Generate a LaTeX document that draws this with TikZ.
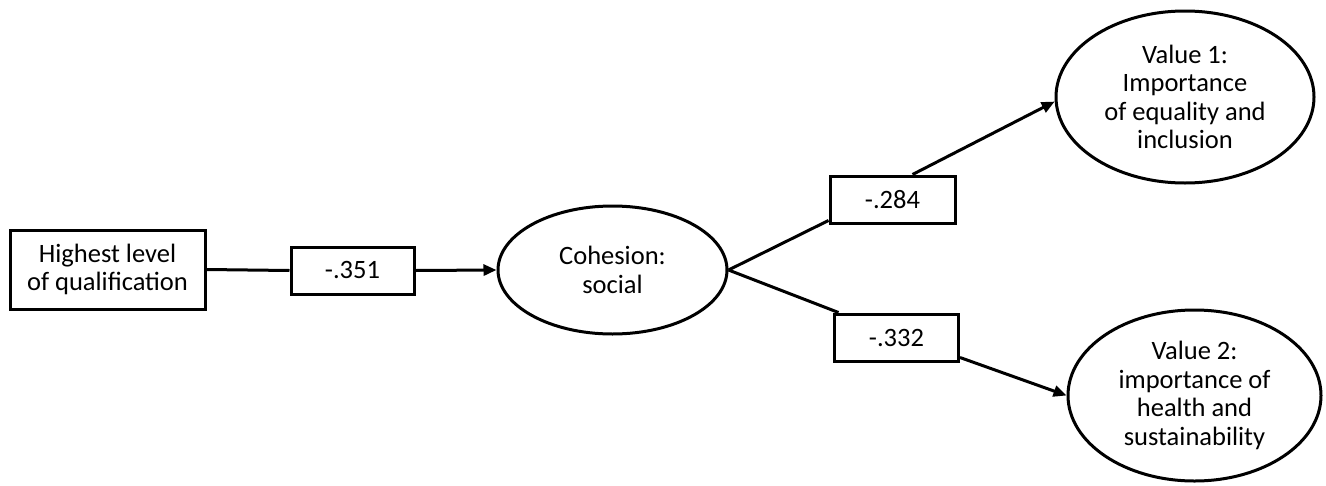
\documentclass[tikz,border=0pt]{standalone}
\usepackage{fontspec}
\setmainfont{Carlito}
\usetikzlibrary{arrows.meta,shapes.geometric}
\begin{document}
\begin{tikzpicture}[x=1pt,y=-1pt,
  every node/.style={font=\fontsize{26.5}{28.5}\selectfont, align=center, inner sep=0pt},
  rectbox/.style={draw, line width=3pt, rectangle},
  latent/.style={draw, line width=3pt, ellipse},
  conn/.style={line width=3pt},
  arr/.style={conn, -{Triangle[length=13pt,width=11pt]}}]
\useasboundingbox (0,0) rectangle (1326,485);
\node[rectbox, minimum width=195pt, minimum height=79pt] (h) at (107.5,269.5) {Highest level\\of qualification};
\node[rectbox, minimum width=123pt, minimum height=47pt] (b351) at (352.5,270.5) {-.351};
\node[latent, minimum width=229pt, minimum height=128pt] (c) at (612.5,270) {Cohesion:\\social};
\node[rectbox, minimum width=125pt, minimum height=47pt] (b284) at (892.5,199.5) {-.284};
\node[rectbox, minimum width=124pt, minimum height=47pt] (b332) at (896.5,337.5) {-.332};
\node[latent, minimum width=258pt, minimum height=172pt] (e1) at (1185,97) {Value 1:\\Importance\\of equality and\\inclusion};
\node[latent, minimum width=253pt, minimum height=171pt] (e2) at (1194.5,395.5) {Value 2:\\importance of\\health and\\sustainability};
\draw[conn] (h.east) -- (b351.west);
\draw[arr] (b351.east) -- (c.west);
\draw[conn] (c.east) -- ([yshift=4pt]b284.south west);
\draw[arr] ([xshift=20pt]b284.north) -- (e1.182);
\draw[conn] (c.east) -- ([xshift=-58pt]b332.north);
\draw[arr] ([yshift=5pt]b332.south east) -- (e2.west);
\end{tikzpicture}
\end{document}
